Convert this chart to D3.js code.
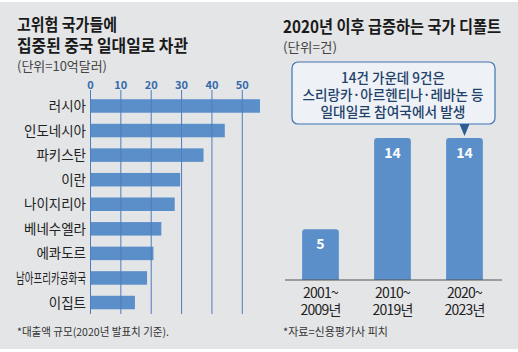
<!DOCTYPE html>
<html>
<head>
<meta charset="utf-8">
<script src="https://cdn.jsdelivr.net/npm/d3@7"></script>
<style>
  body { margin: 0; background: #fff; }
  svg text { font-family: "Noto Sans CJK KR", "Noto Sans", sans-serif; }
</style>
</head>
<body>
<div id="chart"></div>
<script>
// Left chart data (unit: 1 billion dollars)
const countries = ["러시아", "인도네시아", "파키스탄", "이란", "나이지리아", "베네수엘라", "에콰도르", "남아프리카공화국", "이집트"];
const loans = [56, 44.4, 37.4, 29.7, 27.9, 23.5, 20.9, 18.8, 14.8];
const loanTicks = [0, 10, 20, 30, 40, 50];

// Right chart data (unit: cases)
const periods = [["2001~", "2009년"], ["2010~", "2019년"], ["2020~", "2023년"]];
const defaults = [5, 14, 14];
const calloutLines = ["14건 가운데 9건은", "스리랑카·아르헨티나·레바논 등", "일대일로 참여국에서 발생"];

const width = 518;
const height = 352;
const barColor = "#5b8fca";
const gridColor = "#4d7dbd";

const svg = d3.select("#chart")
    .append("svg")
    .attr("width", width)
    .attr("height", height);

// Background panel
svg.append("rect")
    .attr("x", 0).attr("y", 2)
    .attr("width", width).attr("height", 347)
    .attr("fill", "#e4e5e7");

// ---------- Left chart ----------
svg.append("text").attr("x", 17).attr("y", 31)
    .attr("font-size", 17).attr("font-weight", "bold").attr("fill", "#1a1a1a")
    .attr("textLength", 100).attr("lengthAdjust", "spacingAndGlyphs")
    .text("고위험 국가들에");
svg.append("text").attr("x", 17).attr("y", 52)
    .attr("font-size", 17).attr("font-weight", "bold").attr("fill", "#1a1a1a")
    .attr("textLength", 171).attr("lengthAdjust", "spacingAndGlyphs")
    .text("집중된 중국 일대일로 차관");
svg.append("text").attr("x", 17).attr("y", 71)
    .attr("font-size", 13).attr("fill", "#444")
    .attr("textLength", 90).attr("lengthAdjust", "spacingAndGlyphs")
    .text("(단위=10억달러)");

const x = d3.scaleLinear().domain([0, 56]).range([90, 260]);
const y = d3.scaleBand().domain(countries).range([93.7, 314.8])
    .paddingInner(0.45).paddingOuter(0.225);

svg.append("g")
    .selectAll("rect")
    .data(countries)
    .join("rect")
    .attr("x", x(0))
    .attr("y", d => y(d))
    .attr("width", (d, i) => x(loans[i]) - x(0))
    .attr("height", y.bandwidth())
    .attr("fill", barColor);

// grid lines on top of bars, ticks above
const xAxis = svg.append("g")
    .attr("transform", "translate(0,90)")
    .call(d3.axisTop(x).tickValues(loanTicks).tickSize(-224).tickPadding(4));
xAxis.select(".domain").remove();
xAxis.selectAll("line").attr("stroke", gridColor).attr("stroke-width", 1)
    .attr("y1", 0);
xAxis.selectAll("text")
    .attr("font-size", 11).attr("font-weight", "bold").attr("fill", "#3569ab")
    .attr("y", -1);

svg.append("g")
    .selectAll("text")
    .data(countries)
    .join("text")
    .attr("x", 86)
    .attr("y", d => y(d) + y.bandwidth() / 2 + 5)
    .attr("text-anchor", "end")
    .attr("font-size", 13.5)
    .attr("fill", "#222")
    .text(d => d)
    .each(function () {
        const len = this.getComputedTextLength();
        const maxLen = d3.select(this).text().length * 12.4;
        if (len > Math.min(maxLen, 70)) {
            d3.select(this).attr("textLength", Math.min(maxLen, 70)).attr("lengthAdjust", "spacingAndGlyphs");
        }
    });

svg.append("text").attr("x", 17).attr("y", 336)
    .attr("font-size", 11).attr("fill", "#333")
    .attr("textLength", 152).attr("lengthAdjust", "spacingAndGlyphs")
    .text("*대출액 규모(2020년 발표치 기준).");

// ---------- Right chart ----------
svg.append("text").attr("x", 283).attr("y", 33)
    .attr("font-size", 16.5).attr("font-weight", "bold").attr("fill", "#1a1a1a")
    .attr("textLength", 218).attr("lengthAdjust", "spacingAndGlyphs")
    .text("2020년 이후 급증하는 국가 디폴트");
svg.append("text").attr("x", 283).attr("y", 52)
    .attr("font-size", 13).attr("fill", "#444")
    .attr("textLength", 54).attr("lengthAdjust", "spacingAndGlyphs")
    .text("(단위=건)");

const bx = d3.scaleBand().domain(periods.map(p => p.join(""))).range([284.5, 500.5])
    .paddingInner(0.49).paddingOuter(0.245);
const by = d3.scaleLinear().domain([0, 14]).range([280, 138]);

// bars with slightly rounded top corners
function topRoundedBar(x0, y0, w, h, r) {
    return `M${x0},${y0 + h} V${y0 + r} Q${x0},${y0} ${x0 + r},${y0} H${x0 + w - r} Q${x0 + w},${y0} ${x0 + w},${y0 + r} V${y0 + h} Z`;
}

const rbars = svg.append("g");
rbars.selectAll("path")
    .data(periods)
    .join("path")
    .attr("d", (p, i) => topRoundedBar(bx(p.join("")), by(defaults[i]), bx.bandwidth(), by(0) - by(defaults[i]), 3))
    .attr("fill", barColor);

rbars.selectAll("text.val")
    .data(periods)
    .join("text")
    .attr("class", "val")
    .attr("x", p => bx(p.join("")) + bx.bandwidth() / 2)
    .attr("y", (p, i) => by(defaults[i]) + 20)
    .attr("text-anchor", "middle")
    .attr("font-size", 14).attr("font-weight", "bold").attr("fill", "#fff")
    .text((p, i) => defaults[i]);

svg.append("line")
    .attr("x1", 285).attr("x2", 502)
    .attr("y1", by(0)).attr("y2", by(0))
    .attr("stroke", "#555").attr("stroke-width", 1);

const xl = svg.append("g").selectAll("text")
    .data(periods)
    .join("text")
    .attr("x", p => bx(p.join("")) + bx.bandwidth() / 2)
    .attr("y", 298)
    .attr("text-anchor", "middle")
    .attr("font-size", 14).attr("fill", "#222")
    .attr("letter-spacing", -0.8);
xl.append("tspan").text(p => p[0]);
xl.append("tspan")
    .attr("x", p => bx(p.join("")) + bx.bandwidth() / 2)
    .attr("dy", 17)
    .text(p => p[1]);

svg.append("text").attr("x", 283).attr("y", 336)
    .attr("font-size", 11).attr("fill", "#333")
    .attr("textLength", 105).attr("lengthAdjust", "spacingAndGlyphs")
    .text("*자료=신용평가사 피치");

// Callout box
const callout = svg.append("g");
const px = bx(periods[2].join("")) + bx.bandwidth() / 2;
callout.append("rect")
    .attr("x", 292).attr("y", 62)
    .attr("width", 203).attr("height", 62)
    .attr("rx", 6)
    .attr("fill", "#eef1f5")
    .attr("stroke", "#3f74b5").attr("stroke-width", 1.2);
callout.append("path")
    .attr("d", `M${px - 5},124 L${px + 5},124 L${px},136 Z`)
    .attr("fill", "#2b5c98");
callout.selectAll("text")
    .data(calloutLines)
    .join("text")
    .attr("x", 393)
    .attr("y", (d, i) => 83 + i * 17)
    .attr("text-anchor", "middle")
    .attr("font-size", 14).attr("fill", "#22416b")
    .attr("font-weight", 500)
    .text(d => d)
    .each(function (d, i) {
        const target = [104, 181, 145][i];
        d3.select(this).attr("textLength", target).attr("lengthAdjust", "spacingAndGlyphs");
    });
</script>
</body>
</html>
